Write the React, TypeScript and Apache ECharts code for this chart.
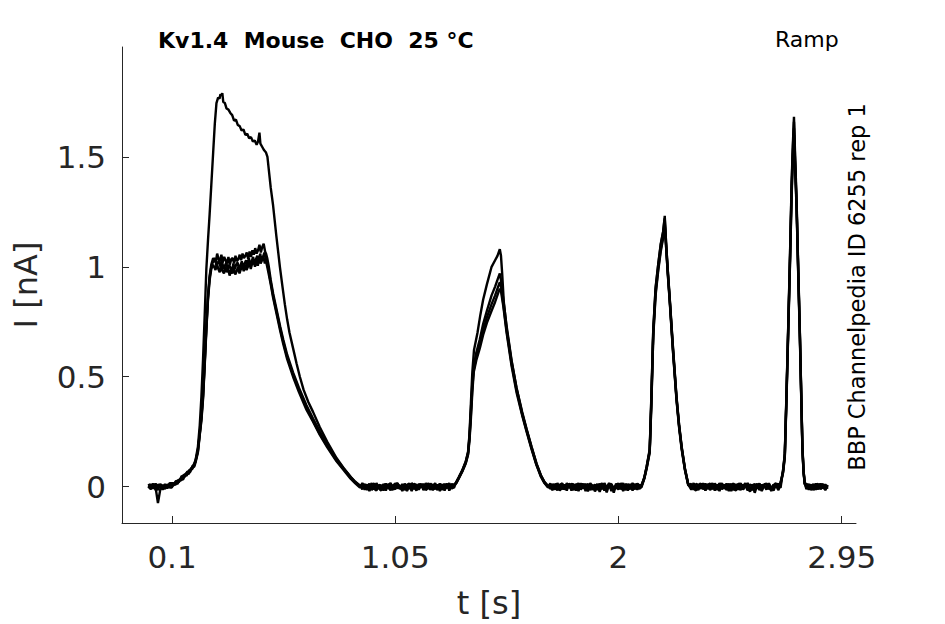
import React, { useEffect, useRef } from "react";
import * as echarts from "echarts";

const FONT = '"DejaVu Sans", "Liberation Sans", sans-serif';

const X_TICKS = [0.1, 1.05, 2, 2.95];
const Y_TICKS = [0, 0.5, 1, 1.5];

const TITLE = "Kv1.4  Mouse  CHO  25 °C";
const PROTOCOL = "Ramp";
const SOURCE = "BBP Channelpedia ID 6255 rep 1";

// Sample times of the flat (baseline) stretches between the ramps, in s
const T_PRE = [0.00, 0.01, 0.02, 0.03, 0.04, 0.05, 0.06, 0.07, 0.08, 0.09];
const T_GAP1 = [0.91, 0.92, 0.93, 0.94, 0.95, 0.96, 0.97, 0.98, 0.99, 1.00, 1.01, 1.02, 1.03, 1.04, 1.05, 1.06, 1.07, 1.08, 1.09, 1.10, 1.11, 1.12, 1.13, 1.14, 1.15, 1.16, 1.17, 1.18, 1.19, 1.20, 1.21, 1.22, 1.23, 1.24, 1.25, 1.26, 1.27, 1.28, 1.29, 1.30];
const T_GAP2 = [1.71, 1.72, 1.73, 1.74, 1.75, 1.76, 1.77, 1.78, 1.79, 1.80, 1.81, 1.82, 1.83, 1.84, 1.85, 1.86, 1.87, 1.88, 1.89, 1.90, 1.91, 1.92, 1.93, 1.94, 1.95, 1.96, 1.97, 1.98, 1.99, 2.00, 2.01, 2.02, 2.03, 2.04, 2.05, 2.06, 2.07, 2.08, 2.09];
const T_GAP3 = [2.31, 2.32, 2.33, 2.34, 2.35, 2.36, 2.37, 2.38, 2.39, 2.40, 2.41, 2.42, 2.43, 2.44, 2.45, 2.46, 2.47, 2.48, 2.49, 2.50, 2.51, 2.52, 2.53, 2.54, 2.55, 2.56, 2.57, 2.58, 2.59, 2.60, 2.61, 2.62, 2.63, 2.64, 2.65, 2.66, 2.67, 2.68, 2.69];
const T_POST = [2.80, 2.81, 2.82, 2.83, 2.84, 2.85, 2.86, 2.87, 2.88, 2.89];

// ---- Sweep A (largest first response) ----
const A_PRE = [0.006, -0.010, 0.012, -0.004, -0.075, -0.012, 0.008, -0.006, 0.010, 0.004];
const A_GAP1 = [-0.012, 0.008, -0.004, 0.014, -0.016, 0.002, 0.010, -0.008, -0.018, 0.006, 0.012, -0.006, 0.004, -0.014, 0.010, 0.016, -0.010, -0.002, 0.008, -0.020, 0.004, 0.012, -0.012, 0.006, -0.004, 0.014, -0.016, 0.002, 0.008, -0.010, -0.002, 0.016, -0.012, 0.004, 0.010, -0.018, 0.006, -0.006, 0.012, 0.004];
const A_GAP2 = [-0.010, 0.012, -0.004, -0.016, 0.008, 0.014, -0.012, 0.002, 0.010, -0.018, 0.006, -0.008, 0.016, -0.014, 0.004, 0.012, -0.022, 0.008, -0.002, 0.010, -0.016, 0.014, -0.006, 0.002, -0.026, 0.008, 0.012, -0.010, 0.004, -0.014, 0.016, -0.008, 0.006, -0.018, 0.010, 0.002, -0.012, 0.014, 0.004];
const A_GAP3 = [-0.014, 0.010, 0.002, -0.016, 0.012, -0.006, 0.014, -0.010, -0.002, 0.016, -0.018, 0.006, 0.010, -0.012, 0.004, -0.008, 0.014, -0.020, 0.008, 0.002, -0.014, 0.012, -0.004, 0.016, -0.010, -0.022, 0.006, 0.012, -0.008, 0.004, -0.016, 0.010, 0.014, -0.012, 0.002, -0.018, 0.008, 0.012, -0.006];
const A_POST = [-0.012, 0.008, -0.004, 0.012, -0.014, 0.006, 0.010, -0.008, 0.004, -0.006];
const A_RAMP1 = [
  [0.100,0.006],[0.110,0.016],[0.120,0.022],[0.132,0.030],[0.144,0.046],[0.156,0.055],[0.168,0.066],[0.180,0.080],[0.190,0.094],
  [0.200,0.12],[0.210,0.18],[0.218,0.28],[0.225,0.41],[0.232,0.58],[0.239,0.78],[0.246,0.99],[0.253,1.12],[0.260,1.24],[0.267,1.37],[0.275,1.52],[0.282,1.65],[0.289,1.745],[0.296,1.77],[0.302,1.765],[0.306,1.785],[0.310,1.78],[0.314,1.79],[0.318,1.75],[0.325,1.745],[0.332,1.72],[0.340,1.715],[0.348,1.70],[0.356,1.69],[0.364,1.665],[0.372,1.67],[0.380,1.645],[0.388,1.64],[0.396,1.62],[0.404,1.625],[0.412,1.60],[0.420,1.605],[0.428,1.585],[0.436,1.59],[0.444,1.57],[0.452,1.575],[0.460,1.555],[0.466,1.57],[0.472,1.61],[0.476,1.56],[0.484,1.545],[0.492,1.53],[0.500,1.52],[0.506,1.50],
  [0.512,1.44],[0.520,1.36],[0.530,1.28],[0.544,1.14],[0.559,1.00],[0.570,0.91],[0.580,0.83],[0.590,0.76],[0.600,0.70],[0.615,0.63],[0.630,0.56],[0.644,0.50],[0.660,0.44],[0.680,0.385],[0.700,0.34],[0.729,0.27],[0.760,0.205],[0.800,0.13],[0.830,0.085],[0.860,0.045],[0.880,0.022],[0.900,0.004],
];
const A_RAMP2 = [[1.310,0.020],[1.320,0.040],[1.335,0.072],[1.350,0.112],[1.360,0.155],[1.366,0.24],[1.372,0.38],[1.378,0.52],[1.385,0.62],[1.400,0.70],[1.412,0.78],[1.424,0.85],[1.440,0.92],[1.460,1.00],[1.475,1.03],[1.485,1.05],[1.495,1.08],[1.500,1.05],[1.505,0.97],[1.512,0.84],[1.524,0.72],[1.545,0.57],[1.566,0.45],[1.590,0.335],[1.609,0.26],[1.630,0.18],[1.651,0.105],[1.670,0.05],[1.685,0.02],[1.700,0.002]];
const A_RAMP3 = [[2.098,0.002],[2.110,0.04],[2.120,0.09],[2.133,0.165],[2.140,0.40],[2.148,0.707],[2.158,0.90],[2.169,1.007],[2.180,1.10],[2.190,1.157],[2.197,1.232],[2.203,1.10],[2.210,0.98],[2.218,0.857],[2.232,0.63],[2.247,0.406],[2.258,0.28],[2.269,0.18],[2.283,0.08],[2.297,0.01]];
const A_RAMP4 = [[2.701,0.08],[2.708,0.15],[2.715,0.42],[2.722,0.707],[2.730,1.05],[2.737,1.383],[2.742,1.55],[2.747,1.683],[2.752,1.50],[2.758,1.307],[2.765,1.00],[2.772,0.707],[2.778,0.42],[2.783,0.18],[2.788,0.07],[2.793,0.015]];

// ---- Sweep B ----
const B_PRE = [-0.008, 0.012, -0.010, 0.014, -0.006, 0.010, -0.014, 0.008, -0.004, 0.016];
const B_GAP1 = [0.010, -0.014, 0.004, -0.006, 0.016, -0.010, -0.018, 0.008, 0.002, -0.012, 0.014, -0.004, -0.016, 0.006, 0.012, -0.008, 0.004, -0.020, 0.010, 0.002, -0.010, 0.016, 0.006, -0.014, 0.008, -0.002, 0.012, -0.016, -0.006, 0.014, 0.004, -0.012, 0.010, -0.020, 0.002, 0.012, -0.008, 0.016, -0.010, 0.006];
const B_GAP2 = [0.014, -0.008, 0.006, 0.010, -0.018, 0.002, -0.012, 0.016, -0.006, 0.008, -0.016, 0.012, 0.002, -0.010, 0.014, -0.020, 0.006, 0.010, -0.014, -0.004, 0.012, -0.008, 0.016, -0.018, 0.004, -0.006, 0.010, -0.028, 0.008, 0.014, -0.012, 0.004, -0.016, 0.012, -0.006, 0.016, 0.002, -0.014, 0.008];
const B_GAP3 = [0.012, -0.008, -0.018, 0.006, 0.014, -0.012, 0.002, 0.010, -0.016, 0.004, 0.012, -0.014, -0.004, 0.016, -0.010, 0.008, -0.020, 0.006, 0.014, -0.012, 0.004, -0.016, 0.010, -0.002, 0.012, -0.014, 0.008, -0.028, 0.004, 0.014, -0.008, 0.006, -0.014, 0.016, -0.010, 0.002, 0.012, -0.016, 0.008];
const B_POST = [0.010, -0.014, 0.004, -0.008, 0.014, -0.010, 0.002, 0.012, -0.016, 0.006];
const B_RAMP1 = [
  [0.102,0.016],[0.114,0.008],[0.126,0.030],[0.138,0.028],[0.150,0.054],[0.162,0.050],[0.174,0.076],[0.186,0.080],[0.195,0.100],
  [0.200,0.115],[0.210,0.16],[0.218,0.24],[0.225,0.31],[0.232,0.41],[0.239,0.56],[0.246,0.72],[0.253,0.86],[0.260,0.95],[0.267,1.00],[0.275,1.025],
  [0.283,1.04],[0.289,1.005],[0.295,1.02],[0.301,1.03],[0.307,0.995],[0.313,1.025],[0.319,0.99],[0.325,1.005],[0.331,1.02],[0.337,0.985],[0.343,1.01],[0.349,0.995],[0.355,0.98],[0.361,1.015],[0.367,0.99],[0.373,1.01],[0.379,1.02],[0.385,0.99],[0.391,1.005],[0.397,1.025],[0.403,0.995],[0.409,1.015],[0.415,1.03],[0.421,1.0],[0.427,1.04],[0.433,1.01],[0.439,1.025],[0.445,1.045],[0.451,1.01],[0.457,1.035],[0.463,1.05],[0.469,1.02],[0.475,1.06],[0.481,1.03],[0.487,1.045],[0.493,1.065],[0.499,1.035],
  [0.504,1.02],[0.510,0.99],[0.520,0.93],[0.530,0.87],[0.540,0.82],[0.550,0.77],[0.560,0.72],[0.573,0.66],[0.590,0.59],[0.615,0.51],[0.640,0.44],[0.672,0.36],[0.700,0.30],[0.729,0.24],[0.760,0.185],[0.800,0.12],[0.830,0.08],[0.860,0.04],[0.880,0.018],[0.900,0.0],
];
const B_RAMP2 = [[1.310,0.018],[1.320,0.038],[1.335,0.070],[1.350,0.108],[1.360,0.150],[1.366,0.22],[1.372,0.33],[1.378,0.45],[1.384,0.53],[1.395,0.59],[1.410,0.65],[1.424,0.71],[1.440,0.77],[1.460,0.83],[1.475,0.87],[1.488,0.91],[1.495,0.93],[1.500,0.91],[1.510,0.83],[1.524,0.71],[1.545,0.56],[1.566,0.44],[1.590,0.33],[1.609,0.255],[1.630,0.175],[1.651,0.10],[1.670,0.048],[1.685,0.018],[1.700,0.0]];
const B_RAMP3 = [[2.098,0.004],[2.110,0.038],[2.120,0.085],[2.133,0.16],[2.140,0.38],[2.148,0.69],[2.158,0.88],[2.169,0.99],[2.180,1.08],[2.190,1.14],[2.197,1.20],[2.203,1.09],[2.210,0.97],[2.218,0.85],[2.232,0.62],[2.247,0.40],[2.258,0.275],[2.269,0.175],[2.283,0.078],[2.297,0.008]];
const B_RAMP4 = [[2.701,0.07],[2.708,0.14],[2.715,0.40],[2.722,0.69],[2.730,1.02],[2.737,1.34],[2.742,1.50],[2.747,1.63],[2.752,1.46],[2.758,1.28],[2.765,0.98],[2.772,0.69],[2.778,0.41],[2.783,0.17],[2.788,0.065],[2.793,0.012]];

// ---- Sweep C ----
const C_PRE = [0.012, -0.006, 0.014, -0.016, 0.010, 0.002, -0.012, 0.012, -0.008, 0.012];
const C_GAP1 = [-0.006, 0.012, -0.016, 0.010, 0.002, -0.012, 0.016, -0.004, 0.008, -0.018, 0.004, 0.010, -0.008, -0.014, 0.016, 0.002, -0.010, 0.012, -0.016, 0.008, 0.014, -0.006, 0.002, -0.018, 0.012, 0.006, -0.010, 0.016, -0.004, -0.014, 0.010, 0.002, -0.016, 0.014, -0.008, 0.004, 0.012, -0.012, 0.002, -0.006];
const C_GAP2 = [-0.004, -0.016, 0.012, 0.004, -0.010, 0.016, -0.014, 0.008, -0.002, 0.012, 0.010, -0.018, 0.004, 0.014, -0.008, 0.002, 0.012, -0.016, 0.008, -0.022, 0.006, 0.010, -0.012, 0.016, -0.004, 0.012, -0.020, 0.002, -0.010, 0.014, -0.006, 0.016, -0.014, 0.004, 0.010, -0.018, 0.012, -0.004, -0.010];
const C_GAP3 = [-0.006, 0.016, -0.012, 0.004, -0.002, 0.012, -0.018, 0.008, 0.014, -0.010, 0.002, -0.014, 0.016, -0.006, 0.010, -0.016, 0.004, 0.012, -0.010, -0.018, 0.014, 0.006, -0.012, 0.002, 0.016, -0.008, -0.016, 0.010, -0.004, 0.012, -0.020, 0.006, -0.006, 0.014, -0.014, 0.010, -0.002, 0.004, 0.014];
const C_POST = [-0.004, 0.012, -0.016, 0.006, 0.002, -0.012, 0.014, -0.006, 0.010, -0.010];
const C_RAMP1 = [
  [0.105,0.004],[0.117,0.026],[0.129,0.020],[0.141,0.048],[0.153,0.044],[0.165,0.068],[0.177,0.066],[0.187,0.094],[0.195,0.100],
  [0.200,0.118],[0.210,0.165],[0.218,0.245],[0.225,0.32],[0.232,0.42],[0.239,0.57],[0.246,0.73],[0.253,0.87],[0.260,0.96],[0.267,1.01],[0.275,1.04],
  [0.286,1.02],[0.292,1.06],[0.298,1.035],[0.304,1.025],[0.310,1.055],[0.316,1.02],[0.322,1.045],[0.328,1.03],[0.334,1.015],[0.340,1.045],[0.346,1.01],[0.352,1.035],[0.358,1.04],[0.364,1.015],[0.370,1.05],[0.376,1.025],[0.382,1.035],[0.388,1.055],[0.394,1.03],[0.400,1.06],[0.406,1.04],[0.412,1.05],[0.418,1.065],[0.424,1.035],[0.430,1.07],[0.436,1.045],[0.442,1.075],[0.448,1.055],[0.454,1.085],[0.460,1.06],[0.466,1.075],[0.472,1.10],[0.478,1.065],[0.484,1.09],[0.490,1.105],[0.496,1.07],[0.500,1.06],
  [0.505,1.04],[0.512,1.00],[0.520,0.94],[0.530,0.88],[0.540,0.83],[0.550,0.78],[0.560,0.73],[0.573,0.67],[0.590,0.60],[0.615,0.52],[0.640,0.45],[0.672,0.37],[0.700,0.31],[0.729,0.25],[0.760,0.19],[0.800,0.125],[0.830,0.084],[0.860,0.044],[0.880,0.02],[0.900,0.004],
];
const C_RAMP2 = [[1.310,0.022],[1.320,0.042],[1.335,0.074],[1.350,0.114],[1.360,0.16],[1.366,0.23],[1.372,0.35],[1.378,0.47],[1.384,0.55],[1.395,0.61],[1.410,0.67],[1.424,0.74],[1.440,0.80],[1.460,0.87],[1.475,0.91],[1.488,0.95],[1.495,0.97],[1.500,0.94],[1.510,0.85],[1.524,0.73],[1.545,0.575],[1.566,0.45],[1.590,0.34],[1.609,0.262],[1.630,0.182],[1.651,0.106],[1.670,0.052],[1.685,0.022],[1.700,0.004]];
const C_RAMP3 = [[2.098,0.006],[2.110,0.042],[2.120,0.092],[2.133,0.17],[2.140,0.41],[2.148,0.71],[2.158,0.905],[2.169,1.01],[2.180,1.105],[2.190,1.16],[2.197,1.22],[2.203,1.105],[2.210,0.985],[2.218,0.86],[2.232,0.635],[2.247,0.41],[2.258,0.283],[2.269,0.182],[2.283,0.082],[2.297,0.012]];
const C_RAMP4 = [[2.701,0.075],[2.708,0.145],[2.715,0.41],[2.722,0.70],[2.730,1.04],[2.737,1.37],[2.742,1.53],[2.747,1.66],[2.752,1.48],[2.758,1.29],[2.765,0.99],[2.772,0.70],[2.778,0.415],[2.783,0.175],[2.788,0.068],[2.793,0.014]];

// ---- Sweep D ----
const D_PRE = [0.002, -0.012, 0.008, 0.004, -0.016, 0.012, -0.002, -0.010, 0.008, -0.004];
const D_GAP1 = [0.016, -0.004, 0.010, -0.020, 0.006, 0.014, -0.010, 0.002, -0.014, 0.012, -0.018, 0.008, 0.016, -0.006, -0.012, 0.010, 0.004, -0.016, 0.014, -0.008, 0.002, -0.020, 0.012, 0.008, -0.014, 0.004, 0.010, -0.010, 0.016, -0.002, -0.016, 0.008, 0.002, 0.012, -0.014, -0.004, 0.014, -0.018, 0.006, 0.010];
const D_GAP2 = [0.008, 0.002, -0.014, 0.016, -0.006, -0.012, 0.010, -0.018, 0.014, 0.004, -0.010, 0.006, -0.020, 0.012, 0.008, -0.006, -0.014, 0.016, 0.002, -0.012, 0.010, -0.024, 0.004, 0.012, -0.008, 0.016, 0.002, -0.016, 0.014, -0.006, 0.008, -0.020, 0.012, 0.002, -0.012, 0.010, -0.008, 0.014, -0.002];
const D_GAP3 = [0.004, -0.014, 0.012, 0.008, -0.010, 0.016, -0.016, -0.002, 0.010, -0.012, 0.014, 0.002, -0.020, 0.010, -0.006, 0.014, -0.012, 0.004, -0.016, 0.012, -0.008, 0.016, -0.014, 0.006, -0.018, 0.010, 0.004, -0.012, 0.014, -0.016, 0.008, 0.002, -0.010, 0.012, -0.020, 0.006, 0.016, -0.012, 0.020];
const D_POST = [0.014, -0.006, 0.010, -0.016, 0.008, 0.012, -0.012, 0.004, -0.014, 0.008];
const D_RAMP1 = [
  [0.099,-0.004],[0.111,0.018],[0.123,0.012],[0.135,0.036],[0.147,0.032],[0.159,0.060],[0.171,0.058],[0.183,0.084],[0.195,0.092],
  [0.200,0.11],[0.210,0.155],[0.218,0.235],[0.225,0.30],[0.232,0.40],[0.239,0.55],[0.246,0.71],[0.253,0.85],[0.260,0.94],[0.267,0.99],[0.275,1.01],
  [0.285,0.985],[0.291,1.015],[0.297,0.99],[0.303,0.975],[0.309,1.005],[0.315,0.98],[0.321,0.97],[0.327,1.0],[0.333,0.975],[0.339,0.99],[0.345,0.96],[0.351,0.985],[0.357,0.97],[0.363,0.995],[0.369,0.965],[0.375,0.98],[0.381,1.0],[0.387,0.97],[0.393,0.99],[0.399,1.005],[0.405,0.98],[0.411,1.01],[0.417,0.985],[0.423,1.0],[0.429,1.02],[0.435,0.99],[0.441,1.015],[0.447,1.025],[0.453,1.0],[0.459,1.03],[0.465,1.005],[0.471,1.04],[0.477,1.015],[0.483,1.03],[0.489,1.045],[0.495,1.015],[0.499,1.03],
  [0.503,1.01],[0.510,0.975],[0.520,0.92],[0.530,0.86],[0.540,0.81],[0.550,0.76],[0.560,0.71],[0.573,0.65],[0.590,0.58],[0.615,0.50],[0.640,0.43],[0.672,0.35],[0.700,0.295],[0.729,0.235],[0.760,0.18],[0.800,0.115],[0.830,0.076],[0.860,0.036],[0.880,0.015],[0.900,-0.004],
];
const D_RAMP2 = [[1.310,0.016],[1.320,0.036],[1.335,0.068],[1.350,0.105],[1.360,0.145],[1.366,0.21],[1.372,0.31],[1.378,0.43],[1.384,0.52],[1.395,0.575],[1.410,0.63],[1.424,0.69],[1.440,0.745],[1.460,0.80],[1.475,0.84],[1.488,0.88],[1.495,0.90],[1.500,0.89],[1.510,0.82],[1.524,0.70],[1.545,0.55],[1.566,0.43],[1.590,0.325],[1.609,0.25],[1.630,0.17],[1.651,0.098],[1.670,0.045],[1.685,0.016],[1.700,-0.004]];
const D_RAMP3 = [[2.098,-0.004],[2.110,0.036],[2.120,0.082],[2.133,0.155],[2.140,0.37],[2.148,0.68],[2.158,0.87],[2.169,0.98],[2.180,1.07],[2.190,1.13],[2.197,1.19],[2.203,1.085],[2.210,0.965],[2.218,0.845],[2.232,0.615],[2.247,0.395],[2.258,0.27],[2.269,0.17],[2.283,0.075],[2.297,0.006]];
const D_RAMP4 = [[2.701,0.065],[2.708,0.135],[2.715,0.39],[2.722,0.68],[2.730,1.01],[2.737,1.32],[2.742,1.48],[2.747,1.60],[2.752,1.44],[2.758,1.27],[2.765,0.97],[2.772,0.68],[2.778,0.40],[2.783,0.165],[2.788,0.06],[2.793,0.01]];

const zip = (ts: number[], vs: number[]) => ts.map((t, i) => [t, vs[i]]);

function sweep(pre: number[], r1: number[][], g1: number[], r2: number[][], g2: number[], r3: number[][], g3: number[], r4: number[][], post: number[]) {
  return [
    ...zip(T_PRE, pre), ...r1,
    ...zip(T_GAP1, g1), ...r2,
    ...zip(T_GAP2, g2), ...r3,
    ...zip(T_GAP3, g3), ...r4,
    ...zip(T_POST, post),
  ];
}

const SWEEPS = [
  sweep(A_PRE, A_RAMP1, A_GAP1, A_RAMP2, A_GAP2, A_RAMP3, A_GAP3, A_RAMP4, A_POST),
  sweep(B_PRE, B_RAMP1, B_GAP1, B_RAMP2, B_GAP2, B_RAMP3, B_GAP3, B_RAMP4, B_POST),
  sweep(C_PRE, C_RAMP1, C_GAP1, C_RAMP2, C_GAP2, C_RAMP3, C_GAP3, C_RAMP4, C_POST),
  sweep(D_PRE, D_RAMP1, D_GAP1, D_RAMP2, D_GAP2, D_RAMP3, D_GAP3, D_RAMP4, D_POST),
];

export default function App() {
  const ref = useRef<HTMLDivElement>(null);

  useEffect(() => {
    if (!ref.current) return;
    const chart = echarts.init(ref.current, undefined, { renderer: "svg" });
    const axisColor = "#262626";
    chart.setOption({
      animation: false,
      backgroundColor: "#ffffff",
      grid: { left: 122, right: 89, top: 47, bottom: 97, containLabel: false },
      xAxis: {
        type: "value",
        min: -0.113,
        max: 3.011,
        name: "t [s]",
        nameLocation: "middle",
        nameGap: 64,
        nameTextStyle: { fontFamily: FONT, fontSize: 32, color: axisColor },
        axisLine: { show: true, onZero: false, lineStyle: { color: axisColor, width: 1 } },
        axisTick: { show: true, inside: true, length: 7, customValues: X_TICKS, lineStyle: { color: axisColor, width: 1 } },
        axisLabel: {
          customValues: X_TICKS,
          formatter: (v: number) => String(v),
          fontFamily: FONT,
          fontSize: 31,
          color: axisColor,
          margin: 18,
        },
        splitLine: { show: false },
      },
      yAxis: {
        type: "value",
        min: -0.1655,
        max: 2.0,
        name: "I [nA]",
        nameLocation: "middle",
        nameRotate: 90,
        nameGap: 80,
        nameTextStyle: { fontFamily: FONT, fontSize: 32, color: axisColor },
        axisLine: { show: true, onZero: false, lineStyle: { color: axisColor, width: 1 } },
        axisTick: { show: true, inside: true, length: 7, customValues: Y_TICKS, lineStyle: { color: axisColor, width: 1 } },
        axisLabel: {
          customValues: Y_TICKS,
          formatter: (v: number) => String(v),
          fontFamily: FONT,
          fontSize: 31,
          color: axisColor,
          margin: 16,
        },
        splitLine: { show: false },
      },
      graphic: [
        {
          type: "text",
          x: 158,
          y: 40,
          style: { text: TITLE, font: `bold 22px ${FONT}`, fill: "#000", align: "left", verticalAlign: "middle" },
        },
        {
          type: "text",
          x: 775,
          y: 39,
          style: { text: PROTOCOL, font: `22px ${FONT}`, fill: "#000", align: "left", verticalAlign: "middle" },
        },
        {
          type: "text",
          x: 857,
          y: 287,
          rotation: Math.PI / 2,
          style: { text: SOURCE, font: `22.5px ${FONT}`, fill: "#000", align: "center", verticalAlign: "middle" },
        },
      ],
      series: SWEEPS.map((d, i) => ({
        name: `sweep ${i + 1}`,
        type: "line",
        data: d,
        showSymbol: false,
        symbol: "none",
        silent: true,
        lineStyle: { color: "#000", width: 2.4 },
      })),
    });
    return () => chart.dispose();
  }, []);

  return (
    <div
      ref={ref}
      style={{ position: "absolute", left: 0, top: 0, width: 945, height: 624, background: "#fff" }}
    />
  );
}
